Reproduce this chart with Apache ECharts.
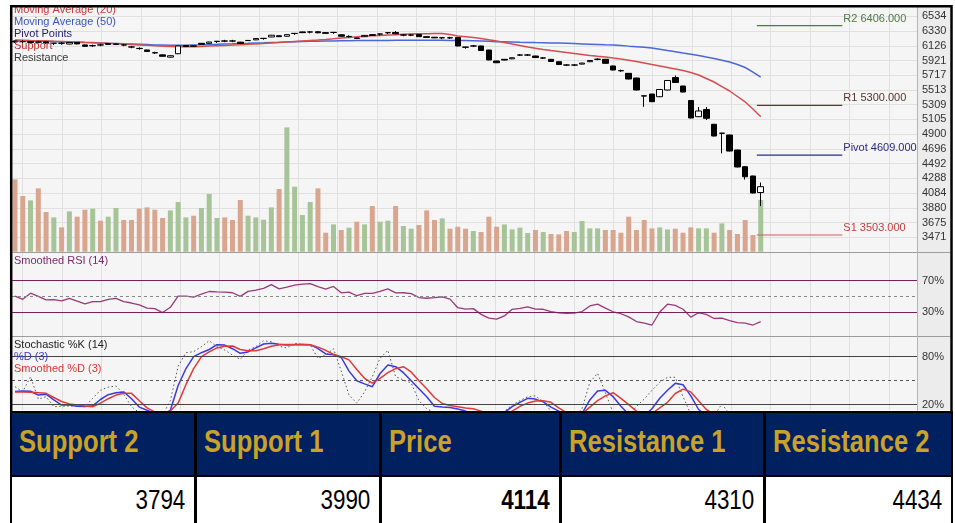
<!DOCTYPE html>
<html>
<head>
<meta charset="utf-8">
<script src="https://cdn.jsdelivr.net/npm/echarts@6/dist/echarts.min.js"></script>
<style>
html,body{margin:0;padding:0;background:#fff;}
#chart{position:absolute;left:0;top:0;width:955px;height:523px;}
#tbl{position:absolute;left:10px;top:411px;width:943px;height:112px;background:#000;overflow:hidden;}
.cell{position:absolute;box-sizing:border-box;white-space:nowrap;font-family:"Liberation Sans",Arial,sans-serif;overflow:hidden;}
.cell span{display:inline-block;transform:scaleX(0.8);}
.hd{background:#002060;color:#c9a227;font-weight:bold;font-size:32px;padding-left:7px;line-height:56px;}
.hd span{transform-origin:left center;}
.vl{background:#fff;color:#000;font-size:28px;text-align:right;padding-right:9px;line-height:46px;}
.vl span{transform-origin:right center;}
</style>
</head>
<body>
<div id="chart"></div>
<div id="tbl"></div>
<script>
// ---------------- DATA ----------------
const priceTicks = [3471, 3675, 3880, 4084, 4288, 4492, 4696, 4900, 5105, 5309, 5513, 5717, 5921, 6126, 6330, 6534];

const open = [6192,6185,6185,6176,6180,6162,6160,6150,6172,6138, 6128,6136,6156,6143,6138,6110,6090,6068,6030,6000,
  5968,6016,6130,6124,6160,6160,6188,6190,6193,6176, 6198,6208,6229,6248,6265,6258,6298,6318,6318,6320,
  6308,6312,6278,6256,6234,6252,6280,6290,6308,6310, 6276,6274,6282,6252,6244,6238,6237,6240,6108,6122,
  6123,6067,5915,5938,5945,5996,5999,5984,5958,5938, 5905,5860,5858,5872,5905,5937,5938,5846,5782,5744,
  5679,5432,5457,5420,5513,5686,5568,5367,5143,5243, 5038,4915,4889,4681,4450,4321,4092];
const close = [6178,6182,6172,6178,6165,6160,6162,6172,6152,6118, 6126,6138,6144,6153,6136,6108,6087,6048,6027,5980,
  5988,6123,6115,6121,6146,6178,6186,6193,6191,6158, 6200,6226,6227,6272,6252,6280,6296,6308,6316,6306,
  6298,6310,6258,6253,6228,6270,6270,6288,6306,6292, 6274,6276,6252,6242,6236,6236,6235,6123,6106,6124,
  6060,5929,5891,5928,5960,5999,5997,5963,5955,5908, 5866,5858,5860,5886,5922,5940,5883,5790,5779,5665,
  5513,5429,5351,5520,5645,5617,5485,5125,5222,5121, 4875,4913,4667,4446,4311,4085,4173];
const low = [6165,6165,6160,6160,6155,6135,6140,6145,6146,6112, 6110,6120,6138,6138,6120,6092,6072,6042,6012,5975,
  5962,6010,6108,6115,6140,6155,6165,6176,6176,6152, 6192,6204,6210,6245,6248,6255,6276,6302,6298,6300,
  6294,6290,6254,6238,6222,6248,6266,6268,6288,6288, 6258,6260,6248,6238,6232,6218,6220,6118,6085,6108,
  6055,5925,5886,5924,5940,5985,5985,5960,5942,5904, 5862,5845,5845,5868,5900,5925,5878,5786,5765,5660,
  5508,5280,5346,5415,5508,5612,5480,5120,5138,5097, 4870,4636,4662,4440,4272,4080,3905];
const high = [6200,6200,6192,6195,6188,6165,6178,6176,6176,6142, 6142,6152,6160,6160,6152,6125,6104,6072,6044,6004,
  5992,6128,6135,6130,6165,6182,6190,6208,6208,6180, 6206,6230,6231,6276,6270,6283,6300,6322,6326,6330,
  6312,6314,6283,6270,6238,6274,6284,6292,6310,6330, 6290,6290,6286,6256,6248,6240,6250,6244,6110,6138,
  6126,6070,5918,5942,5963,6012,6012,5988,5970,5942, 5908,5872,5872,5890,5925,5952,5942,5850,5795,5748,
  5682,5434,5460,5524,5649,5714,5572,5371,5277,5277, 5042,4918,4893,4685,4455,4325,4231];

const ma20 = [6206,6203,6199,6196,6192,6188,6185,6181,6178,6174, 6171,6166,6160,6155,6149,6144,6138,6132,6127,6121,
  6116,6114,6113,6113,6117,6123,6127,6131,6137,6141, 6146,6152,6157,6164,6171,6178,6185,6192,6199,6206,
  6214,6223,6234,6242,6250,6259,6264,6270,6275,6279, 6285,6288,6291,6293,6295,6296,6282,6261,6250,6239,
  6227,6209,6192,6171,6150,6130,6109,6091,6074,6060, 6047,6033,6019,6005,5991,5980,5970,5956,5943,5926,
  5908,5887,5866,5846,5825,5804,5783,5756,5721,5672, 5624,5561,5499,5423,5347,5250,5143];
const ma50 = [6199,6196,6193,6191,6188,6185,6182,6178,6175,6171, 6169,6164,6160,6157,6153,6150,6146,6142,6138,6135,
  6132,6132,6134,6137,6139,6144,6146,6150,6153,6157, 6160,6164,6167,6171,6174,6178,6181,6184,6187,6189,
  6192,6193,6195,6196,6198,6199,6199,6200,6200,6202, 6202,6202,6202,6202,6202,6202,6200,6199,6198,6195,
  6192,6188,6182,6180,6177,6174,6173,6170,6169,6166, 6164,6160,6156,6152,6148,6144,6139,6135,6130,6121,
  6113,6105,6095,6078,6060,6044,6026,6009,5991,5970, 5950,5926,5901,5866,5825,5762,5693];

// relative volume (unlabelled axis) and direction (1 up / -1 down)
const volume = [72.3,55.7,51.3,63.3,39.7,34.3,24.3,40.3,35,42, 43,31,35,43.7,31.7,31.7,43,44.3,42,33.7,
  41.3,49.7,34.3,36,43.7,57.7,33.7,34.3,31.7,51.7, 36,34.3,32,44.3,62.7,124.3,65,36.7,49.7,63.3,
  19,27.3,21.7,24,30,27.3,45.7,30,31,45.7, 25.7,23,26.7,41.3,31.7,33.3,23,25,23,20.7,
  19.7,35,25,27.3,22.3,24,18.7,21.7,19.7,17.7, 17.3,20.7,19.7,30.7,23.3,23.3,21.7,21.7,19,35,
  21.7,31.7,23.3,24.3,22.3,23,19,24.3,23.3,23.3, 19,28.3,21.7,17.7,31.7,16.7,51.7];
const volDir = [-1,-1,1,-1,-1,1,-1,1,-1,-1, 1,-1,1,1,-1,-1,-1,-1,-1,-1, 1,1,1,-1,1,1,1,-1,-1,-1,
  1,1,1,1,-1,1,1,1,1,-1, -1,1,-1,1,-1,1,-1,1,1,-1, 1,1,-1,-1,-1,1,-1,-1,-1,1,
  -1,-1,-1,1,1,1,1,-1,1,-1, -1,-1,1,1,1,1,-1,-1,-1,-1, -1,-1,-1,1,1,-1,-1,-1,1,1, -1,1,-1,-1,-1,-1,1];

const rsi = [50.4,46.2,54,50,45.5,45.9,44.3,47.3,44,40.3, 43.2,43.2,46.2,47.3,43.3,41.5,39.2,35,34.3,29.3,
  36,50.4,50.4,48.9,53,56.2,55.7,55.3,54.6,50, 56.4,58,60.2,64.9,59.5,61.8,64.3,65.6,66.2,62.3,
  59.2,62.7,54.5,55.5,50.8,53.8,53.9,56.4,59.6,54.5, 54.6,53.5,48.5,47.6,48.4,49.3,46.5,35.5,33.7,34.3,
  27,22.3,20.8,25,33.5,34.7,36.7,33.8,33.5,30.5, 29,28.3,28.5,30.6,37.7,40,35,30.3,27.8,23.8,
  17.8,15.8,13.4,30,40,38.5,33.5,23.5,29,27, 21.7,22.3,19,16.4,15.8,13.4,17.6];

const stochK = [42.5,36.3,55,27,30,17.5,18,18.4,18,17.5, 28,38,42,43.4,33,17.5,10,6,5,7,
  25,68,85,86.3,92.5,100,92.5,88.4,82,76.7, 88.4,92.5,100,98.8,93,90.9,96.7,95.5,94.6,78,
  82,90,62,32,22,36,55,78,88,55, 51,47,25,15,10,6,4,5,6,7,
  5,4,8,12,19.6,25,30,31,24,12, 5,4,5,15,48,59.2,35,10,5,5,
  18,27,38,48,54.2,54.2,30,8,5,4, 6,21,8,5,4,4,6];
const stochD = [36.5,37,36.8,32,33.2,26,19.6,19.6,18,17.8, 18.6,26.5,32.5,35,36,27.5,17,13,9,8,
  13,44,65,80,85,89,95,94.5,90,84.2, 86,91,95.9,96.7,95.5,94.6,95,95.4,95,90,
  83.4,82.5,79,62,50,46,42.5,59,69.6,67.5, 60,50,40,30,18,17,16.5,14.5,12,9,
  7,5,6,10,17.5,23,28,27,23.5,17, 12,8,6,9,26,37,38,30,18,8,
  5,6,15,28,38,46.7,45,31,14,7, 5,4,4,3,3,3,4];
const stochSD = [36,36,35.5,35,34.2,29,24,21,19.5,18.4, 17.5,22,27.5,32,34.2,34.2,25,16,11,9,
  12,22,45,65,80,86,91,93,93.3,89, 87.5,87.5,90,93,95,95.4,95.4,95.4,95,92,
  88,83,80,76,64,53,47,53,60,65, 67.5,61,50,40,29,21.5,19,17.5,16,15,
  12,9,7,8,12,18,22,24.5,25,23, 16,10,7,9,17,25,31,35,28,20,
  12,8,9,16,23,34,39.5,36,25,14, 8,5,4,4,4,4,4];

const pivotNames  = ['R2', 'R1', 'Pivot', 'S1'];
const pivotValues = [6406, 5300, 4609, 3503];

const tableHeaders = ['Support 2', 'Support 1', 'Price', 'Resistance 1', 'Resistance 2'];
const tableValues  = [3794, 3990, 4114, 4310, 4434];
const tableBold    = 2;

// ---------------- LAYOUT / STYLE ----------------
const SLOTS = 117;                 // x slots (data + empty right part)
const X0 = 15, XS = 7.768;         // first candle centre / spacing (px)
const PL = 12, PW = 905;           // plot left / width
const wideMin = -(X0 - PL) / XS, wideMax = wideMin + PW / XS;
const PIV_START = 95.5, PIV_END = 106.5;
const pivotColors = ['#4f7a40', '#6b3030', '#2a2a90', '#d05a5a'];
const pivotText   = ['#4f7a40', '#553333', '#2a2a80', '#c04040'];
const FONT = '"Liberation Sans", Arial, sans-serif';
const cats = Array.from({length: SLOTS}, (_, i) => String(i));
const idx = (arr) => arr.map((v, i) => [i, v]);

const priceTop = 16.3, priceH = 221;
const grids = [
  {left: PL, top: 7, width: PW, height: 403, show: true, backgroundColor: '#f5f5f5', borderWidth: 0}, // 0 bg
  {left: 22.7, top: 7, width: 39.37 * 22, height: 403},                                           // 1 vlines
  {left: PL, top: priceTop, width: PW, height: priceH},                                            // 2 price wide
  {left: X0, top: priceTop, width: XS * (SLOTS - 1), height: priceH},                               // 3 candles
  {left: X0, top: 127.3, width: XS * (SLOTS - 1), height: 124.4},                                   // 4 volume
  {left: PL, top: 253.3, width: PW, height: 82.2},                                                 // 5 rsi
  {left: PL, top: 340.7, width: PW, height: 80},                                                   // 6 stoch
  {left: 917, top: 7, width: 33, height: 403, show: true, backgroundColor: '#ececec', borderWidth: 0} // 7 strip
];
const hidV = (g, extra) => Object.assign({type: 'value', gridIndex: g, show: false}, extra || {});
const lbl = {fontSize: 11, color: '#333', fontFamily: FONT, margin: 5};

const xAxis = [
  hidV(0),
  {type: 'value', gridIndex: 1, min: 0, max: 22, interval: 1, axisLine: {show: false}, axisTick: {show: false},
   axisLabel: {show: false}, splitLine: {show: true, lineStyle: {color: '#e0e0e0', width: 1}}},
  hidV(2, {min: wideMin, max: wideMax}),
  {type: 'category', gridIndex: 3, data: cats, boundaryGap: false, show: false},
  {type: 'category', gridIndex: 4, data: cats, boundaryGap: false, show: false},
  hidV(5, {min: wideMin, max: wideMax}),
  hidV(6, {min: wideMin, max: wideMax}),
  hidV(7)
];
const yAxis = [
  hidV(0), hidV(1),
  {type: 'value', gridIndex: 2, position: 'right', min: 3471.4, max: 6534.4, interval: 204.2,
   axisLine: {show: false}, axisTick: {show: false},
   axisLabel: Object.assign({}, lbl, {formatter: v => { const k = Math.round((v - 3471.4) / 204.2); return priceTicks[k] != null ? String(priceTicks[k]) : ''; }}),
   splitLine: {show: true, lineStyle: {color: '#e0e0e0', width: 1}}},
  hidV(3, {min: 3471.4, max: 6534.4}),
  hidV(4, {min: 0, max: 124.4}),
  {type: 'value', gridIndex: 5, position: 'right', min: 0, max: 105, interval: 10,
   axisLine: {show: false}, axisTick: {show: false}, splitLine: {show: false},
   axisLabel: Object.assign({}, lbl, {formatter: v => (v === 70 || v === 30) ? v + '%' : ''})},
  {type: 'value', gridIndex: 6, position: 'right', min: 0, max: 100, interval: 10,
   axisLine: {show: false}, axisTick: {show: false}, splitLine: {show: false},
   axisLabel: Object.assign({}, lbl, {formatter: v => (v === 80 || v === 20) ? v + '%' : ''})},
  hidV(7)
];

const mlBase = {symbol: ['none', 'none'], silent: true, label: {show: false}, animation: false};

const series = [
  {type: 'bar', xAxisIndex: 4, yAxisIndex: 4, barWidth: 5, z: 1,
   data: volume.map((v, i) => ({value: v, itemStyle: {color: volDir[i] > 0 ? '#a6c497' : '#d8a68f'}}))},
  {type: 'line', xAxisIndex: 2, yAxisIndex: 2, data: idx(ma50), symbol: 'none', z: 2,
   lineStyle: {color: '#4a68d6', width: 1.5}},
  {type: 'line', xAxisIndex: 2, yAxisIndex: 2, data: idx(ma20), symbol: 'none', z: 2,
   lineStyle: {color: '#d64d4d', width: 1.5}},
  {type: 'candlestick', xAxisIndex: 3, yAxisIndex: 3, barWidth: 6, z: 3,
   data: open.map((o, i) => [o, close[i], low[i], high[i]]),
   itemStyle: {color: '#ffffff', color0: '#000000', borderColor: '#000000', borderColor0: '#000000', borderWidth: 1}},
  {type: 'line', xAxisIndex: 5, yAxisIndex: 5, data: idx(rsi), symbol: 'none',
   lineStyle: {color: '#9a3a7a', width: 1.3},
   markLine: Object.assign({}, mlBase, {data: [
     {yAxis: 70, lineStyle: {color: '#7a1f5c', type: 'solid', width: 1.2}},
     {yAxis: 30, lineStyle: {color: '#7a1f5c', type: 'solid', width: 1.2}},
     {yAxis: 50, lineStyle: {color: '#888', type: [3, 3], width: 1}}]})},
  {type: 'line', xAxisIndex: 6, yAxisIndex: 6, data: idx(stochK), symbol: 'none',
   lineStyle: {color: '#555', width: 1, type: [1.5, 2.5]},
   markLine: Object.assign({}, mlBase, {data: [
     {yAxis: 80, lineStyle: {color: '#444', type: 'solid', width: 1.2}},
     {yAxis: 20, lineStyle: {color: '#444', type: 'solid', width: 1.2}},
     {yAxis: 50, lineStyle: {color: '#555', type: [3, 3], width: 1}}]})},
  {type: 'line', xAxisIndex: 6, yAxisIndex: 6, data: idx(stochD), symbol: 'none',
   lineStyle: {color: '#3a3ae0', width: 1.5}},
  {type: 'line', xAxisIndex: 6, yAxisIndex: 6, data: idx(stochSD), symbol: 'none',
   lineStyle: {color: '#e03a3a', width: 1.5}}
];

pivotValues.forEach((v, k) => {
  series.push({type: 'line', xAxisIndex: 2, yAxisIndex: 2, symbol: 'none', z: 4,
    data: [[PIV_START, v], [PIV_END, v]],
    lineStyle: {color: pivotColors[k], width: 1.2},
    endLabel: {show: true, distance: 1, offset: [0, -7], fontSize: 11, fontFamily: FONT, color: pivotText[k],
      formatter: () => pivotNames[k] + ' ' + v.toFixed(3)}});
});

const txt = (s, x, y, fill) => ({type: 'text', z: 60, silent: true,
  style: {text: s, x: x, y: y, fill: fill, font: '11px ' + FONT, verticalAlign: 'middle', textVerticalAlign: 'middle'}});
const hline = (y, color) => ({type: 'line', z: 55, silent: true, shape: {x1: 12, y1: y, x2: 950, y2: y}, style: {stroke: color, lineWidth: 1}});

const graphic = [
  hline(252.5, '#9c9c9c'), hline(336.5, '#9c9c9c'),
  {type: 'line', z: 55, silent: true, shape: {x1: 917.5, y1: 7, x2: 917.5, y2: 411}, style: {stroke: '#b4b4b4', lineWidth: 1}},
  txt('Moving Average (20)', 14, 9.5, '#c83737'),
  txt('Moving Average (50)', 14, 21.5, '#3a55c0'),
  txt('Pivot Points', 14, 33.5, '#1c1c78'),
  txt('Support', 14, 45.5, '#b83030'),
  txt('Resistance', 14, 57.5, '#3a3a3a'),
  txt('Smoothed RSI (14)', 14, 261, '#7a2a6a'),
  txt('Stochastic %K (14)', 14, 344.5, '#222222'),
  txt('%D (3)', 14, 356.5, '#3a3ad0'),
  txt('Smoothed %D (3)', 14, 368.5, '#dd3333'),
  {type: 'rect', z: 90, silent: true, shape: {x: 0, y: 0, width: 955, height: 5}, style: {fill: '#ffffff'}},
  {type: 'rect', z: 100, silent: true, shape: {x: 11.2, y: 6.2, width: 940.3, height: 420}, style: {fill: 'none', stroke: '#000', lineWidth: 2.5}}
];

const chart = echarts.init(document.getElementById('chart'));
chart.setOption({animation: false, grid: grids, xAxis: xAxis, yAxis: yAxis, series: series, graphic: graphic});

// ---------------- TABLE ----------------
const b = [0, 185, 370, 550, 754, 943];
const tbl = document.getElementById('tbl');
tableHeaders.forEach((h, i) => {
  const left = b[i] + 2, width = (i === 4 ? b[5] - 2 : b[i + 1] - 1) - left;
  const hd = document.createElement('div');
  hd.className = 'cell hd';
  hd.style.cssText = `left:${left}px;top:2px;width:${width}px;height:62px;`;
  const hs = document.createElement('span');
  hs.textContent = h;
  hd.appendChild(hs);
  tbl.appendChild(hd);
  const vl = document.createElement('div');
  vl.className = 'cell vl';
  vl.style.cssText = `left:${left}px;top:66px;width:${width}px;height:50px;` + (i === tableBold ? 'font-weight:bold;' : '');
  const vs = document.createElement('span');
  vs.textContent = String(tableValues[i]);
  vl.appendChild(vs);
  tbl.appendChild(vl);
});
</script>
</body>
</html>
